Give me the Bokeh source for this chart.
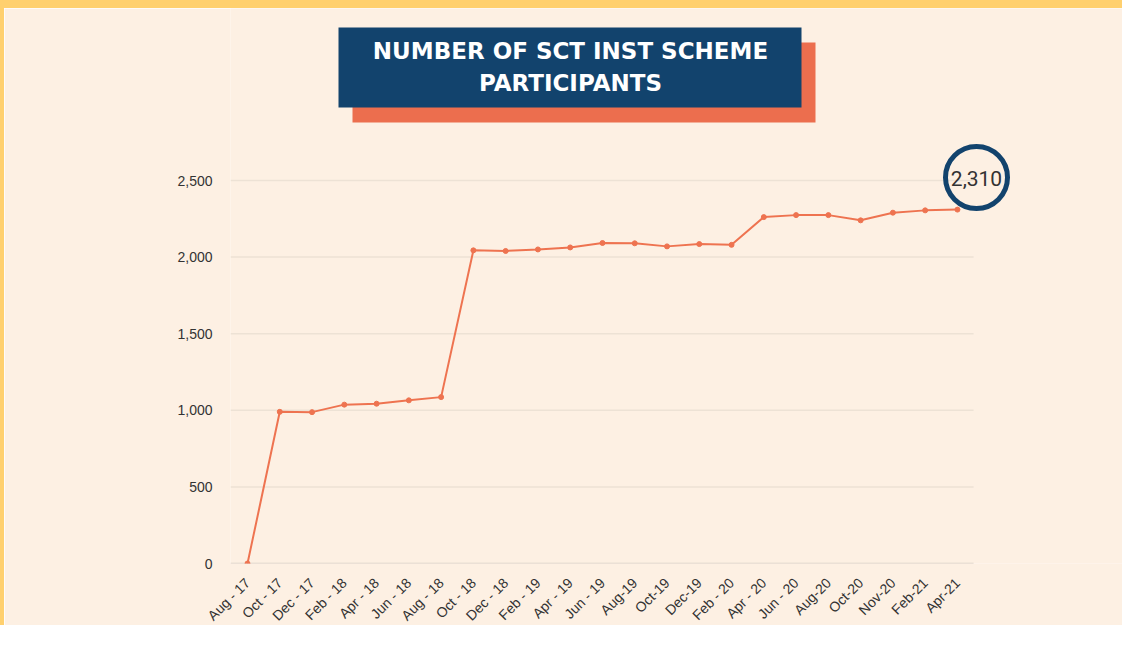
from bokeh.plotting import figure
from bokeh.models import Range1d, BoxAnnotation, Label, FixedTicker, NumeralTickFormatter
from bokeh.embed import file_html
from bokeh.resources import INLINE
import math

months = ["Aug - 17", "Oct - 17", "Dec - 17", "Feb - 18", "Apr - 18", "Jun - 18",
          "Aug - 18", "Oct - 18", "Dec - 18", "Feb - 19", "Apr - 19", "Jun - 19",
          "Aug-19", "Oct-19", "Dec-19", "Feb - 20", "Apr - 20", "Jun - 20",
          "Aug-20", "Oct-20", "Nov-20", "Feb-21", "Apr-21"]
participants = [0, 990, 988, 1037, 1043, 1065, 1086, 2044, 2040, 2050, 2063, 2092,
                2090, 2070, 2085, 2080, 2261, 2274, 2274, 2240, 2290, 2305, 2310]
y_ticks = [0, 500, 1000, 1500, 2000, 2500]
title_lines = ["NUMBER OF SCT INST SCHEME", "PARTICIPANTS"]
callout = "2,310"

BG = "#FDF0E3"
YEL = "#FFD06E"
LINE = "#EE7350"
NAVY = "#12436D"
ORANGE = "#EC6E4E"

OX, OY = 4, 8            # yellow strips (left, top) drawn as CSS border outside the canvas
W, H = 1122, 625         # canvas size
FL, FB = 230, 563        # frame left / bottom in image coords
STEP = 32.27             # px per category
X0 = 247                 # px of first category

idx = list(range(len(months)))
x_start = (FL - X0) / STEP
x_end = x_start + (OX + W - FL) / STEP
y_end = (FB - OY) / ((FB - 180) / 2500)

p = figure(width=W, height=H, x_range=Range1d(x_start, x_end),
           y_range=Range1d(0, y_end), output_backend="svg", toolbar_location=None,
           background_fill_color=BG, border_fill_color=BG,
           min_border_left=FL - OX, min_border_right=0,
           min_border_top=0, min_border_bottom=OY + H - FB)
p.styles = {"border-top": f"{OY}px solid {YEL}", "border-left": f"{OX}px solid {YEL}"}
p.outline_line_color = None
p.xgrid.grid_line_color = None
p.ygrid.grid_line_color = None

# gridlines over the category span only
grid_x1 = len(months) - 0.5
p.segment(x0=[x_start] * (len(y_ticks) - 1), x1=[grid_x1] * (len(y_ticks) - 1),
          y0=y_ticks[1:], y1=y_ticks[1:], line_color="#EDE2D5", line_width=1.5)
p.segment(x0=[x_start], x1=[grid_x1], y0=[y_ticks[0]], y1=[y_ticks[0]],
          line_color="#D8CDC2", line_width=1.5)

p.line(idx, participants, line_color=LINE, line_width=2)
p.scatter(idx, participants, size=5, fill_color=LINE, line_color=LINE)

p.yaxis.ticker = FixedTicker(ticks=y_ticks)
p.yaxis.formatter = NumeralTickFormatter(format="0,0")
p.xaxis.ticker = FixedTicker(ticks=idx)
p.xaxis.major_label_overrides = {i: m for i, m in zip(idx, months)}
for ax in (p.xaxis[0], p.yaxis[0]):
    ax.axis_line_color = None
    ax.major_tick_line_color = None
    ax.minor_tick_line_color = None
    ax.major_label_text_font = "Liberation Sans"
    ax.major_label_text_font_size = "14px"
    ax.major_label_text_color = "#333333"
p.yaxis.major_label_standoff = 12
p.xaxis.major_label_orientation = math.pi / 4
p.xaxis.major_label_standoff = 11

def sx(X):
    return X - FL
def sy(Y):
    return FB - Y

def box(l, t, r, b, **kw):
    return BoxAnnotation(left=sx(l), right=sx(r), top=sy(t), bottom=sy(b),
                         left_units="screen", right_units="screen",
                         top_units="screen", bottom_units="screen", level="overlay", **kw)

# title boxes
p.add_layout(box(352, 42, 815, 122, fill_color=ORANGE, fill_alpha=1, line_color=None))
p.add_layout(box(338, 27, 801, 107, fill_color=NAVY, fill_alpha=1, line_color=None))
for i, t in enumerate(title_lines):
    p.add_layout(Label(x=sx(570), y=sy(50 + 32 * i), x_units="screen", y_units="screen",
                       text=t, text_align="center", text_baseline="alphabetic",
                       text_font="DejaVu Sans", text_font_style="bold", text_font_size="23px",
                       text_color="white", level="overlay"))

# callout circle
cx, cy, r = 976, 177, 31
p.add_layout(box(cx - r, cy - r, cx + r, cy + r, fill_alpha=0, line_color=NAVY,
                 line_alpha=1, line_width=5, border_radius=r))
p.add_layout(Label(x=sx(cx), y=sy(cy + 1), x_units="screen", y_units="screen", text=callout,
                   text_align="center", text_baseline="middle", text_font="Roboto",
                   text_font_size="21px", text_color="#333333", level="overlay"))

open("out.html", "w").write(file_html(p, INLINE))
